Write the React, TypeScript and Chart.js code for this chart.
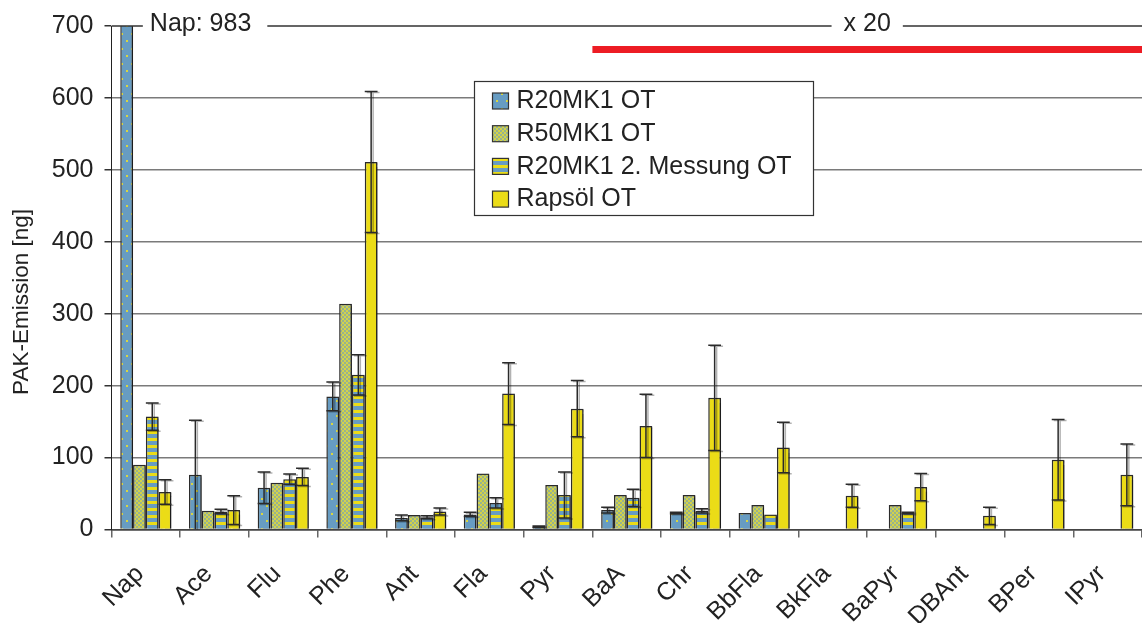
import React, { useEffect, useRef } from "react";
import { Chart, registerables } from "chart.js";

Chart.register(...registerables);

const FONT = "'Liberation Sans', Arial, Helvetica, sans-serif";

const categories = ["Nap", "Ace", "Flu", "Phe", "Ant", "Fla", "Pyr", "BaA", "Chr", "BbFla", "BkFla", "BaPyr", "DBAnt", "BPer", "IPyr"];
const seriesLabels = ["R20MK1 OT", "R50MK1 OT", "R20MK1 2. Messung OT", "Rapsöl OT"];

const r20mk1 = [983, 76, 58, 185, 16, 21, 4, 27, 23, 23, null, null, null, null, null];
const r20mk1Err = [0, 76, 22, 20, 4, 3, 1, 4, 1, 0, 0, 0, 0, 0, 0];
const r50mk1 = [90, 26, 65, 314, 20, 78, 62, 48, 48, 34, null, 34, null, null, null];
const r50mk1Err = [0, 0, 0, 0, 0, 0, 0, 0, 0, 0, 0, 0, 0, 0, 0];
const r20mk1b = [157, 25, 70, 215, 17, 37, 48, 44, 26, 21, null, 23, null, null, null];
const r20mk1bErr = [19, 3, 7, 28, 2, 7, 32, 12, 3, 0, 0, 1, 0, 0, 0];
const rapsoel = [52, 27, 73, 511, 25, 189, 168, 144, 183, 114, 47, 59, 19, 97, 76];
const rapsoelErr = [17, 20, 12, 98, 5, 43, 39, 44, 73, 35, 16, 19, 12, 56, 43];

const yMin = 0;
const yMax = 700;
const yStep = 100;
const yTitle = "PAK-Emission [ng]";
const napNote = "Nap: 983";
const factorNote = "x 20";
const factorStartIndex = 7; // BaA onwards

const BLUE = "#679cc2";
const YELLOW = "#ebdc17";

function makePatterns(ctx: CanvasRenderingContext2D) {
  const tile = (w: number, h: number, draw: (c: CanvasRenderingContext2D) => void) => {
    const c = document.createElement("canvas");
    c.width = w;
    c.height = h;
    const t = c.getContext("2d")!;
    draw(t);
    return ctx.createPattern(c, "repeat")!;
  };
  const dots = tile(10, 15, (t) => {
    t.fillStyle = BLUE;
    t.fillRect(0, 0, 10, 15);
    t.fillStyle = "#d9d640";
    t.fillRect(1, 3, 2, 2);
    t.fillRect(6, 10, 2, 2);
  });
  const checker = tile(4, 4, (t) => {
    t.fillStyle = "#97b38e";
    t.fillRect(0, 0, 4, 4);
    t.fillStyle = "#d3d24a";
    t.fillRect(0, 0, 2, 2);
    t.fillRect(2, 2, 2, 2);
  });
  const stripes = tile(8, 7, (t) => {
    t.fillStyle = BLUE;
    t.fillRect(0, 0, 8, 7);
    t.fillStyle = YELLOW;
    t.fillRect(0, 4, 8, 3);
  });
  return [dots, checker, stripes, YELLOW];
}

const errorSets = [r20mk1Err, r50mk1Err, r20mk1bErr, rapsoelErr];

const decorPlugin = {
  id: "decor",
  beforeDatasetsDraw(chart: any) {
    const ctx = chart.ctx;
    ctx.save();
    ctx.shadowColor = "rgba(0,0,0,0.35)";
    ctx.shadowOffsetX = 2;
    ctx.shadowOffsetY = 1;
    ctx.shadowBlur = 1;
  },
  afterDatasetsDraw(chart: any) {
    const ctx: CanvasRenderingContext2D = chart.ctx;
    ctx.restore();
    const ys = chart.scales.y;
    const area = chart.chartArea;
    ctx.save();
    ctx.beginPath();
    ctx.rect(area.left, area.top, area.right - area.left, area.bottom - area.top);
    ctx.clip();
    errorSets.forEach((errs, di) => {
      const meta = chart.getDatasetMeta(di);
      const vals = chart.data.datasets[di].data;
      meta.data.forEach((el: any, j: number) => {
        const v = vals[j];
        const e = errs[j];
        if (v == null || !e) return;
        const top = ys.getPixelForValue(v + e);
        const low = v - e;
        const bot = ys.getPixelForValue(Math.max(0, low));
        const x = el.x;
        const hw = el.width / 2;
        const passes = [
          { dx: 2, dy: 1, col: "rgba(0,0,0,0.3)" },
          { dx: 0, dy: 0, col: "#2a2a2a" },
        ];
        passes.forEach((p) => {
          ctx.strokeStyle = p.col;
          ctx.lineWidth = 1.5;
          ctx.beginPath();
          ctx.moveTo(x + p.dx, top + p.dy);
          ctx.lineTo(x + p.dx, bot + p.dy);
          ctx.moveTo(x - hw + p.dx, top + p.dy);
          ctx.lineTo(x + hw + p.dx, top + p.dy);
          if (low > 0) {
            ctx.moveTo(x - hw + p.dx, bot + p.dy);
            ctx.lineTo(x + hw + p.dx, bot + p.dy);
          }
          ctx.stroke();
        });
      });
    });
    ctx.restore();
  },
  afterDraw(chart: any) {
    const ctx: CanvasRenderingContext2D = chart.ctx;
    const xs = chart.scales.x;
    const ys = chart.scales.y;
    const area = chart.chartArea;
    const topY = ys.getPixelForValue(yMax);
    ctx.save();
    ctx.font = `25px ${FONT}`;
    ctx.textBaseline = "middle";
    ctx.fillStyle = "#222";

    // Nap note
    const napX = xs.getPixelForValue(0) + 4;
    const napW = ctx.measureText(napNote).width;
    ctx.textAlign = "left";
    ctx.fillText(napNote, napX, topY - 2);

    // factor note
    const fx0 = xs.getPixelForValue(factorStartIndex - 0.5);
    const fx1 = area.right;
    const fxm = (fx0 + fx1) / 2;
    const fW = ctx.measureText(factorNote).width;
    ctx.textAlign = "center";
    ctx.fillText(factorNote, fxm, topY - 2);

    // top line segments
    ctx.strokeStyle = "#333";
    ctx.lineWidth = 1.3;
    ctx.beginPath();
    ctx.moveTo(area.left, topY);
    ctx.lineTo(napX - 7, topY);
    ctx.moveTo(napX + napW + 16, topY);
    ctx.lineTo(fxm - fW / 2 - 12, topY);
    ctx.moveTo(fxm + fW / 2 + 12, topY);
    ctx.lineTo(fx1, topY);
    ctx.stroke();

    // red marker line
    ctx.strokeStyle = "#ed1c24";
    ctx.lineWidth = 7;
    ctx.beginPath();
    ctx.moveTo(fx0, topY + 23.5);
    ctx.lineTo(fx1, topY + 23.5);
    ctx.stroke();

    // y title
    ctx.save();
    ctx.translate(22, 302);
    ctx.rotate(-Math.PI / 2);
    ctx.textAlign = "center";
    ctx.fillStyle = "#222";
    ctx.font = `22.5px ${FONT}`;
    ctx.fillText(yTitle, 0, 0);
    ctx.restore();

    // legend
    const fills = chart.data.datasets.map((d: any) => d.backgroundColor);
    const lx = 474.5, ly = 81.5, lw = 339, lh = 134;
    ctx.fillStyle = "#fff";
    ctx.fillRect(lx, ly, lw, lh);
    ctx.strokeStyle = "#333";
    ctx.lineWidth = 1.2;
    ctx.strokeRect(lx, ly, lw, lh);
    ctx.font = `25px ${FONT}`;
    ctx.textAlign = "left";
    seriesLabels.forEach((lab, i) => {
      const cy = ly + 19 + i * 32.7;
      ctx.fillStyle = fills[i];
      ctx.fillRect(lx + 18, cy - 7.5, 16, 16);
      ctx.strokeStyle = "#333";
      ctx.lineWidth = 1.2;
      ctx.strokeRect(lx + 18, cy - 7.5, 16, 16);
      ctx.fillStyle = "#222";
      ctx.fillText(lab, lx + 42, cy + 1);
    });
    ctx.restore();
  },
};

export default function App() {
  const ref = useRef<HTMLCanvasElement>(null);
  useEffect(() => {
    const canvas = ref.current!;
    const ctx = canvas.getContext("2d")!;
    const fills = makePatterns(ctx);
    const seriesData = [r20mk1, r50mk1, r20mk1b, rapsoel];
    const chart = new Chart(canvas, {
      type: "bar",
      data: {
        labels: categories,
        datasets: seriesData.map((d, i) => ({
          label: seriesLabels[i],
          data: d,
          backgroundColor: fills[i] as any,
          borderColor: "#2b2b2b",
          borderWidth: 1.5,
          borderSkipped: "bottom",
          categoryPercentage: 0.745,
          barPercentage: 1.0,
        })),
      },
      options: {
        responsive: false,
        animation: false,
        devicePixelRatio: 1,
        layout: { padding: { top: 26, right: 0, left: 0, bottom: 0 } },
        plugins: {
          legend: { display: false },
          tooltip: { enabled: false },
          title: { display: false },
        },
        scales: {
          x: {
            offset: true,
            grid: {
              display: true,
              drawOnChartArea: false,
              drawTicks: true,
              tickLength: 8,
              color: "#666",
              lineWidth: 1.5,
              offset: true,
            },
            border: { display: true, color: "#444", width: 1.5 },
            ticks: {
              minRotation: 45,
              maxRotation: 45,
              autoSkip: false,
              color: "#222",
              padding: 22,
              labelOffset: -6,
              font: { family: FONT, size: 25 },
            },
            afterFit: (s: any) => {
              s.height = 93.5;
              s.paddingLeft = 0;
              s.paddingRight = 0;
            },
          },
          y: {
            min: yMin,
            max: yMax,
            grid: {
              drawTicks: true,
              tickLength: 7,
              lineWidth: 1.5,
              color: (c: any) =>
                c.tick && c.tick.value === yMax ? "rgba(0,0,0,0)" : c.tick && c.tick.value === 0 ? "#444" : "#7a7a7a",
              tickColor: "#333",
            },
            border: { display: true, color: "#222", width: 1 },
            ticks: {
              stepSize: yStep,
              color: "#222",
              padding: 11,
              font: { family: FONT, size: 25 },
            },
            afterFit: (s: any) => {
              s.width = 111.5;
            },
          },
        },
      },
      plugins: [decorPlugin],
    });
    return () => chart.destroy();
  }, []);
  return (
    <div style={{ position: "absolute", left: 0, top: 0, width: 1142, height: 623, background: "#fff" }}>
      <canvas ref={ref} width={1142} height={623} style={{ display: "block" }} />
    </div>
  );
}
